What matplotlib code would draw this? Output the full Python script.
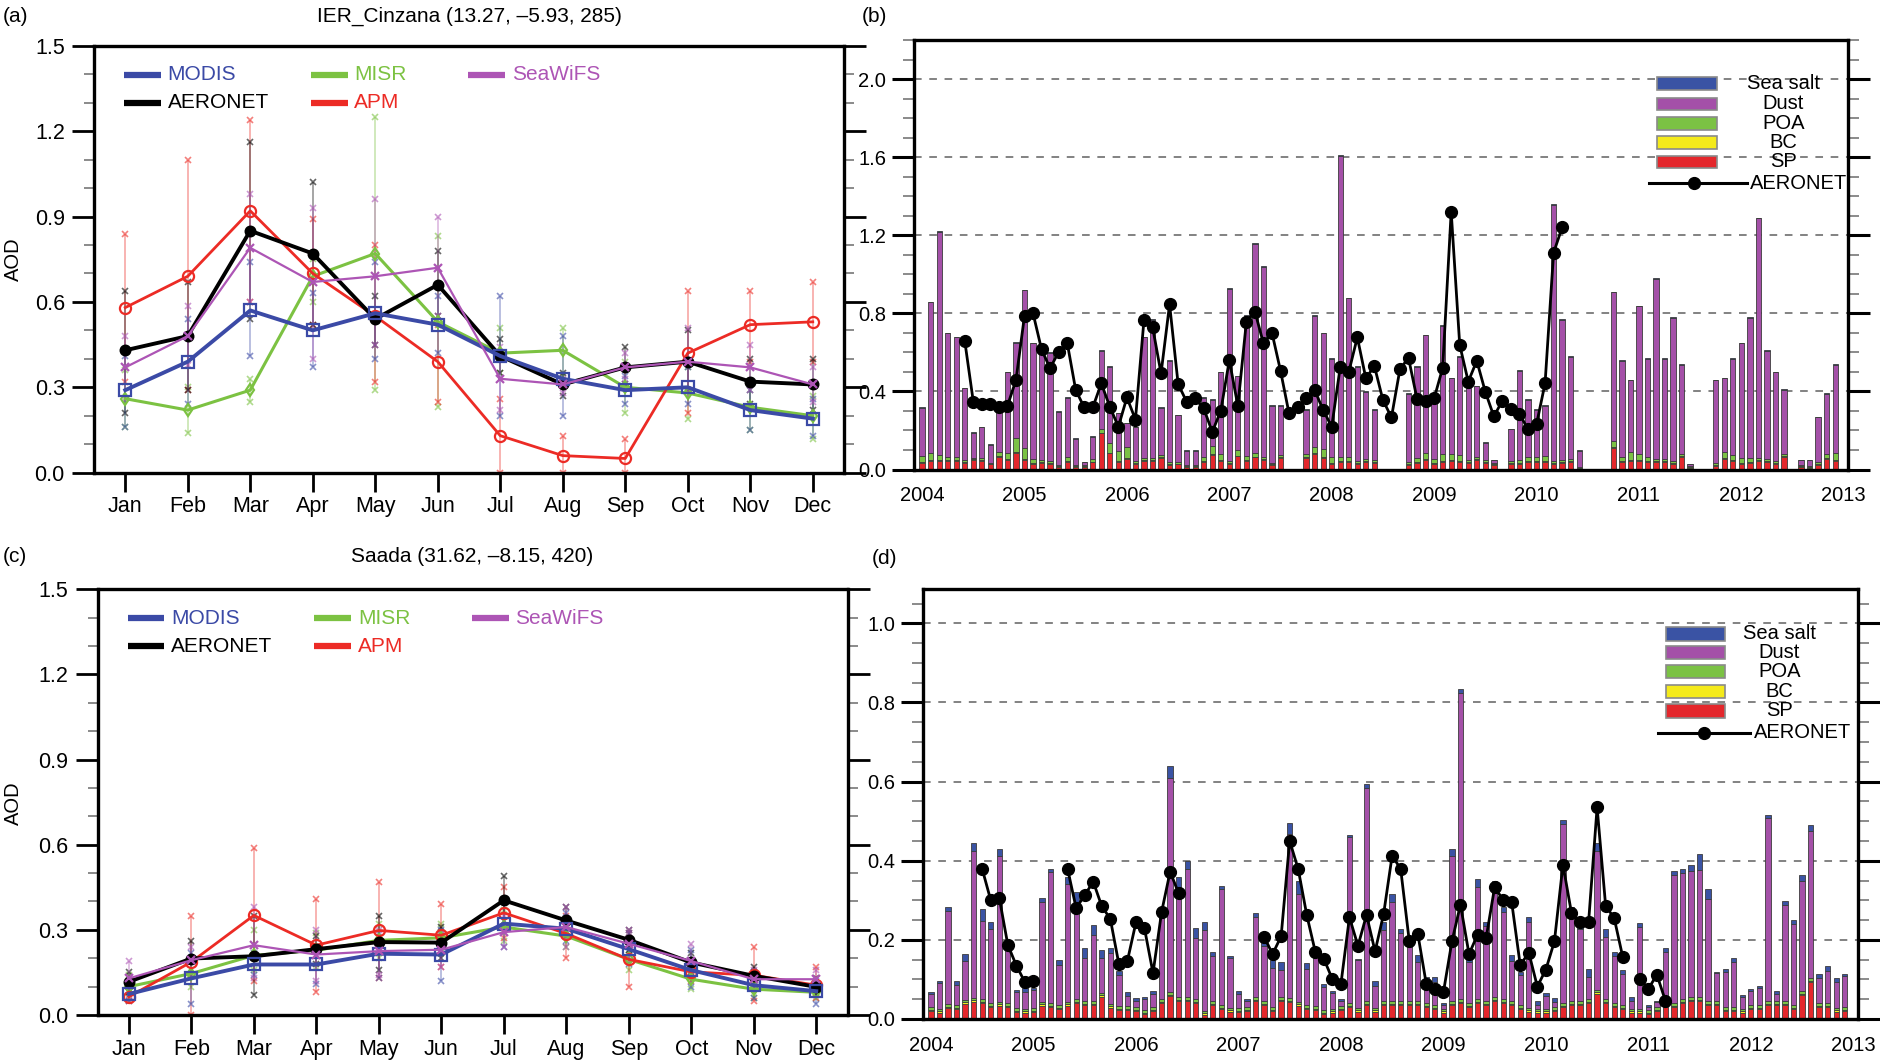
import numpy as np
import matplotlib
matplotlib.use('Agg')
import matplotlib.pyplot as plt
from matplotlib.patches import Rectangle
from matplotlib.lines import Line2D
from matplotlib.ticker import MultipleLocator, FormatStrFormatter

plt.rcParams['font.family'] = ['Liberation Sans', 'DejaVu Sans']
nan = np.nan

# ---------------- categories / labels ----------------
month_labels = ['Jan', 'Feb', 'Mar', 'Apr', 'May', 'Jun', 'Jul', 'Aug', 'Sep', 'Oct', 'Nov', 'Dec']
year_labels = ['2004', '2005', '2006', '2007', '2008', '2009', '2010', '2011', '2012', '2013']
series_names = ['MODIS', 'MISR', 'SeaWiFS', 'AERONET', 'APM']
component_names = ['Sea salt', 'Dust', 'POA', 'BC', 'SP']
title_a = 'IER_Cinzana (13.27, \u20135.93, 285)'
title_c = 'Saada (31.62, \u20138.15, 420)'

# ---------------- panel (a): IER_Cinzana monthly climatology ----------------
a_modis = [0.29, 0.39, 0.57, 0.50, 0.56, 0.52, 0.41, 0.33, 0.29, 0.30, 0.22, 0.19]
a_misr = [0.26, 0.22, 0.29, 0.69, 0.77, 0.53, 0.42, 0.43, 0.30, 0.28, 0.23, 0.20]
a_seawifs = [0.37, 0.48, 0.79, 0.67, 0.69, 0.72, 0.33, 0.31, 0.37, 0.39, 0.37, 0.31]
a_aeronet = [0.43, 0.48, 0.85, 0.77, 0.54, 0.66, 0.41, 0.31, 0.37, 0.39, 0.32, 0.31]
a_apm = [0.58, 0.69, 0.92, 0.70, 0.55, 0.39, 0.13, 0.06, 0.05, 0.42, 0.52, 0.53]

a_modis_lo = [0.16, 0.24, 0.41, 0.37, 0.40, 0.42, 0.20, 0.20, 0.24, 0.24, 0.15, 0.13]
a_modis_hi = [0.41, 0.54, 0.74, 0.63, 0.74, 0.62, 0.62, 0.48, 0.34, 0.37, 0.29, 0.26]
a_misr_lo = [0.16, 0.14, 0.25, 0.60, 0.29, 0.23, 0.35, 0.34, 0.21, 0.19, 0.15, 0.12]
a_misr_hi = [0.36, 0.30, 0.33, 0.75, 1.25, 0.83, 0.51, 0.51, 0.39, 0.37, 0.29, 0.27]
a_seawifs_lo = [0.26, 0.38, 0.60, 0.40, 0.45, 0.55, 0.22, 0.28, 0.33, 0.29, 0.29, 0.25]
a_seawifs_hi = [0.48, 0.585, 0.98, 0.93, 0.96, 0.90, 0.44, 0.33, 0.42, 0.51, 0.45, 0.37]
a_aeronet_lo = [0.21, 0.29, 0.54, 0.52, 0.45, 0.55, 0.35, 0.27, 0.31, 0.29, 0.24, 0.22]
a_aeronet_hi = [0.64, 0.67, 1.16, 1.02, 0.62, 0.78, 0.47, 0.35, 0.44, 0.50, 0.40, 0.40]
a_apm_lo = [0.32, 0.29, 0.60, 0.52, 0.32, 0.25, 0.0, 0.0, 0.0, 0.21, 0.39, 0.39]
a_apm_hi = [0.84, 1.10, 1.24, 0.89, 0.80, 0.52, 0.26, 0.13, 0.12, 0.64, 0.64, 0.67]

# ---------------- panel (c): Saada monthly climatology ----------------
c_modis = [0.074, 0.129, 0.178, 0.178, 0.216, 0.213, 0.322, 0.304, 0.232, 0.158, 0.105, 0.084]
c_misr = [0.100, 0.146, 0.210, 0.228, 0.263, 0.272, 0.310, 0.278, 0.196, 0.126, 0.091, 0.080]
c_seawifs = [0.129, 0.193, 0.246, 0.213, 0.225, 0.230, 0.292, 0.310, 0.251, 0.190, 0.126, 0.126]
c_aeronet = [0.117, 0.199, 0.207, 0.232, 0.257, 0.255, 0.404, 0.333, 0.265, 0.185, 0.138, 0.099]
c_apm = [0.064, 0.187, 0.351, 0.246, 0.298, 0.281, 0.360, 0.287, 0.196, 0.152, 0.140, 0.105]

c_modis_lo = [0.05, 0.04, 0.14, 0.11, 0.13, 0.12, 0.24, 0.26, 0.18, 0.10, 0.06, 0.04]
c_modis_hi = [0.10, 0.22, 0.22, 0.24, 0.29, 0.30, 0.40, 0.36, 0.29, 0.23, 0.15, 0.12]
c_misr_lo = [0.06, 0.10, 0.16, 0.17, 0.20, 0.22, 0.26, 0.24, 0.16, 0.09, 0.06, 0.06]
c_misr_hi = [0.14, 0.19, 0.30, 0.29, 0.32, 0.32, 0.37, 0.32, 0.23, 0.16, 0.12, 0.10]
c_seawifs_lo = [0.07, 0.14, 0.13, 0.12, 0.14, 0.17, 0.24, 0.24, 0.20, 0.14, 0.10, 0.09]
c_seawifs_hi = [0.19, 0.24, 0.38, 0.30, 0.30, 0.29, 0.35, 0.38, 0.30, 0.25, 0.16, 0.16]
c_aeronet_lo = [0.08, 0.14, 0.07, 0.18, 0.16, 0.20, 0.33, 0.28, 0.23, 0.15, 0.10, 0.07]
c_aeronet_hi = [0.15, 0.26, 0.35, 0.28, 0.35, 0.31, 0.49, 0.38, 0.30, 0.22, 0.17, 0.13]
c_apm_lo = [0.05, 0.00, 0.12, 0.08, 0.13, 0.17, 0.27, 0.20, 0.10, 0.12, 0.05, 0.06]
c_apm_hi = [0.08, 0.35, 0.59, 0.41, 0.47, 0.39, 0.45, 0.35, 0.29, 0.19, 0.24, 0.17]

# ---------------- panel (b): IER_Cinzana monthly time series 2004-2012 ----------------
b_sp = [
    0.035, 0.043, 0.043, 0.043, 0.043, 0.035, 0.050, 0.043, 0.026, 0.065, 0.048, 0.085,
    0.048, 0.030, 0.035, 0.030, 0.014, 0.040, 0.013, 0.013, 0.036, 0.185, 0.082, 0.040,
    0.056, 0.027, 0.043, 0.043, 0.060, 0.025, 0.026, 0.015, 0.015, 0.040, 0.075, 0.043,
    0.030, 0.067, 0.043, 0.062, 0.050, 0.025, 0.060, nan, nan, 0.060, 0.080, 0.060,
    0.030, 0.040, 0.040, 0.030, 0.040, 0.035, nan, nan, nan, 0.025, 0.035, 0.050,
    0.030, 0.040, 0.045, 0.040, 0.035, 0.050, 0.035, 0.025, nan, 0.030, 0.030, 0.040,
    0.040, 0.040, 0.030, 0.035, 0.040, 0.005, nan, nan, nan, 0.110, 0.040, 0.045,
    0.045, 0.040, 0.040, 0.040, 0.030, 0.065, 0.008, nan, nan, 0.020, 0.055, 0.045,
    0.030, 0.035, 0.045, 0.040, 0.030, 0.065, nan, 0.015, 0.010, 0.025, 0.055, 0.045]
b_bc = [
    0.004, 0.004, 0.004, 0.004, 0.004, 0.004, 0.004, 0.004, 0.004, 0.004, 0.004, 0.006,
    0.004, 0.004, 0.004, 0.004, 0.004, 0.004, 0.004, 0.004, 0.004, 0.004, 0.004, 0.004,
    0.004, 0.004, 0.004, 0.004, 0.004, 0.004, 0.004, 0.004, 0.004, 0.004, 0.004, 0.004,
    0.004, 0.004, 0.004, 0.004, 0.004, 0.004, 0.004, nan, nan, 0.004, 0.004, 0.004,
    0.004, 0.004, 0.004, 0.004, 0.004, 0.004, nan, nan, nan, 0.004, 0.004, 0.004,
    0.004, 0.004, 0.004, 0.004, 0.004, 0.004, 0.004, 0.004, nan, 0.004, 0.004, 0.004,
    0.004, 0.004, 0.004, 0.004, 0.004, 0.004, nan, nan, nan, 0.004, 0.004, 0.004,
    0.004, 0.004, 0.004, 0.004, 0.004, 0.004, 0.004, nan, nan, 0.004, 0.004, 0.004,
    0.004, 0.004, 0.004, 0.004, 0.004, 0.004, nan, 0.004, 0.004, 0.004, 0.004, 0.004]
b_poa = [
    0.030, 0.040, 0.025, 0.015, 0.015, 0.008, 0.006, 0.012, 0.005, 0.020, 0.030, 0.070,
    0.060, 0.020, 0.008, 0.008, 0.005, 0.020, 0.004, 0.004, 0.012, 0.020, 0.050, 0.050,
    0.055, 0.010, 0.012, 0.010, 0.012, 0.010, 0.010, 0.005, 0.005, 0.020, 0.040, 0.030,
    0.012, 0.030, 0.020, 0.020, 0.010, 0.005, 0.012, nan, nan, 0.015, 0.030, 0.040,
    0.030, 0.020, 0.020, 0.012, 0.010, 0.010, nan, nan, nan, 0.008, 0.020, 0.030,
    0.020, 0.035, 0.030, 0.030, 0.010, 0.010, 0.010, 0.004, nan, 0.008, 0.015, 0.020,
    0.020, 0.025, 0.012, 0.010, 0.008, 0.004, nan, nan, nan, 0.030, 0.020, 0.040,
    0.030, 0.020, 0.012, 0.010, 0.010, 0.012, 0.004, nan, nan, 0.008, 0.030, 0.025,
    0.025, 0.020, 0.010, 0.008, 0.010, 0.010, nan, 0.005, 0.005, 0.008, 0.020, 0.035]
b_dust = [
    0.248, 0.770, 1.145, 0.635, 0.615, 0.370, 0.127, 0.158, 0.092, 0.208, 0.415, 0.488,
    0.805, 0.593, 0.560, 0.555, 0.274, 0.303, 0.136, 0.016, 0.115, 0.398, 0.391, 0.193,
    0.122, 0.176, 0.618, 0.710, 0.241, 0.518, 0.237, 0.073, 0.073, 0.303, 0.238, 0.420,
    0.881, 0.376, 0.720, 1.071, 0.973, 0.293, 0.251, nan, nan, 0.228, 0.673, 0.593,
    0.503, 1.543, 0.813, 0.481, 0.343, 0.258, nan, nan, nan, 0.350, 0.468, 0.603,
    0.293, 0.658, 0.388, 0.503, 0.368, 0.363, 0.088, 0.014, nan, 0.165, 0.458, 0.293,
    0.243, 0.258, 1.311, 0.718, 0.525, 0.084, nan, nan, nan, 0.763, 0.493, 0.368,
    0.758, 0.503, 0.921, 0.513, 0.733, 0.456, 0.011, nan, nan, 0.425, 0.378, 0.493,
    0.588, 0.718, 1.228, 0.555, 0.453, 0.328, nan, 0.023, 0.028, 0.230, 0.308, 0.453]
b_ss = [
    0.003, 0.003, 0.003, 0.003, 0.003, 0.003, 0.003, 0.003, 0.003, 0.003, 0.003, 0.003,
    0.003, 0.003, 0.003, 0.003, 0.003, 0.003, 0.003, 0.003, 0.003, 0.003, 0.003, 0.003,
    0.003, 0.003, 0.003, 0.003, 0.003, 0.003, 0.003, 0.003, 0.003, 0.003, 0.003, 0.003,
    0.003, 0.003, 0.003, 0.003, 0.003, 0.003, 0.003, nan, nan, 0.003, 0.003, 0.003,
    0.003, 0.003, 0.003, 0.003, 0.003, 0.003, nan, nan, nan, 0.003, 0.003, 0.003,
    0.003, 0.003, 0.003, 0.003, 0.003, 0.003, 0.003, 0.003, nan, 0.003, 0.003, 0.003,
    0.003, 0.003, 0.003, 0.003, 0.003, 0.003, nan, nan, nan, 0.003, 0.003, 0.003,
    0.003, 0.003, 0.003, 0.003, 0.003, 0.003, 0.003, nan, nan, 0.003, 0.003, 0.003,
    0.003, 0.003, 0.003, 0.003, 0.003, 0.003, nan, 0.003, 0.003, 0.003, 0.003, 0.003]
b_aeronet = [
    nan, nan, nan, nan, nan, 0.658, 0.347, 0.338, 0.333, 0.318, 0.326, 0.458,
    0.788, 0.800, 0.615, 0.518, 0.603, 0.650, 0.407, 0.318, 0.318, 0.441, 0.321, 0.219,
    0.369, 0.256, 0.766, 0.732, 0.492, 0.846, 0.438, 0.347, 0.364, 0.313, 0.193, 0.300,
    0.560, 0.326, 0.757, 0.809, 0.646, 0.700, 0.506, 0.287, 0.318, 0.368, 0.407, 0.304,
    0.219, 0.526, 0.500, 0.677, 0.467, 0.530, 0.356, 0.267, 0.515, 0.571, 0.361, 0.349,
    0.364, 0.520, 1.320, 0.638, 0.450, 0.557, 0.398, 0.272, 0.352, 0.309, 0.284, 0.207,
    0.232, 0.441, 1.110, 1.240, nan, nan, nan, nan, nan, nan, nan, nan,
    nan, nan, nan, nan, nan, nan, nan, nan, nan, nan, nan, nan,
    nan, nan, nan, nan, nan, nan, nan, nan, nan, nan, nan, nan]

# ---------------- panel (d): Saada monthly time series 2004-2012 ----------------
d_sp = [
    0.020, 0.015, 0.027, 0.025, 0.038, 0.044, 0.040, 0.030, 0.034, 0.030, 0.017, 0.015,
    0.017, 0.034, 0.030, 0.025, 0.034, 0.040, 0.035, 0.035, 0.056, 0.028, 0.022, 0.022,
    0.020, 0.012, 0.020, 0.040, 0.057, 0.045, 0.045, 0.040, 0.010, 0.035, 0.025, 0.018,
    0.017, 0.020, 0.045, 0.035, 0.020, 0.045, 0.042, 0.033, 0.025, 0.022, 0.012, 0.015,
    0.022, 0.030, 0.018, 0.035, 0.018, 0.035, 0.035, 0.035, 0.035, 0.035, 0.030, 0.025,
    0.015, 0.035, 0.040, 0.030, 0.040, 0.035, 0.045, 0.040, 0.035, 0.025, 0.018, 0.015,
    0.015, 0.020, 0.030, 0.035, 0.035, 0.040, 0.063, 0.040, 0.030, 0.025, 0.015, 0.015,
    0.012, 0.020, 0.030, 0.030, 0.040, 0.045, 0.045, 0.035, 0.035, 0.020, 0.020, 0.015,
    0.025, 0.025, 0.035, 0.035, 0.035, 0.025, 0.060, 0.093, 0.030, 0.030, 0.018, 0.020]
d_bc = [
    0.004, 0.004, 0.004, 0.004, 0.004, 0.004, 0.004, 0.004, 0.004, 0.004, 0.004, 0.004,
    0.004, 0.004, 0.004, 0.004, 0.004, 0.004, 0.004, 0.004, 0.004, 0.004, 0.004, 0.004,
    0.004, 0.004, 0.004, 0.004, 0.004, 0.004, 0.004, 0.004, 0.004, 0.004, 0.004, 0.004,
    0.004, 0.004, 0.004, 0.004, 0.004, 0.004, 0.004, 0.004, 0.004, 0.004, 0.004, 0.004,
    0.004, 0.004, 0.004, 0.004, 0.004, 0.004, 0.004, 0.004, 0.004, 0.004, 0.004, 0.004,
    0.004, 0.004, 0.004, 0.004, 0.004, 0.004, 0.004, 0.004, 0.004, 0.004, 0.004, 0.004,
    0.004, 0.004, 0.004, 0.004, 0.004, 0.004, 0.004, 0.004, 0.004, 0.004, 0.004, 0.004,
    0.004, 0.004, 0.004, 0.004, 0.004, 0.004, 0.004, 0.004, 0.004, 0.004, 0.004, 0.004,
    0.004, 0.004, 0.004, 0.004, 0.004, 0.004, 0.004, 0.004, 0.004, 0.004, 0.004, 0.004]
d_poa = [
    0.006, 0.006, 0.006, 0.006, 0.006, 0.006, 0.006, 0.006, 0.006, 0.006, 0.006, 0.006,
    0.006, 0.006, 0.006, 0.006, 0.006, 0.006, 0.006, 0.006, 0.006, 0.006, 0.006, 0.006,
    0.006, 0.006, 0.006, 0.006, 0.006, 0.006, 0.006, 0.006, 0.006, 0.006, 0.006, 0.006,
    0.006, 0.006, 0.006, 0.006, 0.006, 0.006, 0.006, 0.006, 0.006, 0.006, 0.006, 0.006,
    0.006, 0.006, 0.006, 0.006, 0.006, 0.006, 0.006, 0.006, 0.006, 0.006, 0.006, 0.006,
    0.006, 0.006, 0.006, 0.006, 0.006, 0.006, 0.006, 0.006, 0.006, 0.006, 0.006, 0.006,
    0.006, 0.006, 0.006, 0.006, 0.006, 0.006, 0.006, 0.006, 0.006, 0.006, 0.006, 0.006,
    0.006, 0.006, 0.006, 0.006, 0.006, 0.006, 0.006, 0.006, 0.006, 0.006, 0.006, 0.006,
    0.006, 0.006, 0.006, 0.006, 0.006, 0.006, 0.006, 0.006, 0.006, 0.006, 0.006, 0.006]
d_dust = [
    0.032, 0.066, 0.235, 0.052, 0.099, 0.371, 0.198, 0.188, 0.369, 0.135, 0.041, 0.043,
    0.046, 0.252, 0.331, 0.102, 0.296, 0.240, 0.110, 0.167, 0.089, 0.130, 0.080, 0.027,
    0.016, 0.029, 0.032, 0.205, 0.543, 0.275, 0.325, 0.155, 0.206, 0.115, 0.294, 0.127,
    0.037, 0.015, 0.203, 0.140, 0.099, 0.070, 0.415, 0.273, 0.091, 0.136, 0.058, 0.040,
    0.013, 0.421, 0.120, 0.538, 0.055, 0.181, 0.250, 0.172, 0.137, 0.098, 0.045, 0.058,
    0.011, 0.367, 0.774, 0.104, 0.284, 0.189, 0.275, 0.220, 0.102, 0.075, 0.217, 0.011,
    0.032, 0.013, 0.452, 0.222, 0.183, 0.056, 0.352, 0.157, 0.118, 0.079, 0.020, 0.208,
    0.009, 0.012, 0.130, 0.325, 0.319, 0.320, 0.322, 0.259, 0.070, 0.090, 0.115, 0.031,
    0.036, 0.044, 0.462, 0.017, 0.244, 0.204, 0.279, 0.372, 0.064, 0.081, 0.065, 0.078]
d_ss = [
    0.005, 0.004, 0.012, 0.008, 0.017, 0.021, 0.030, 0.018, 0.017, 0.015, 0.006, 0.010,
    0.005, 0.010, 0.008, 0.012, 0.020, 0.030, 0.025, 0.025, 0.020, 0.012, 0.010, 0.008,
    0.006, 0.005, 0.008, 0.015, 0.030, 0.030, 0.020, 0.025, 0.020, 0.010, 0.008, 0.005,
    0.006, 0.005, 0.010, 0.015, 0.020, 0.018, 0.028, 0.032, 0.015, 0.012, 0.008, 0.005,
    0.005, 0.005, 0.004, 0.012, 0.012, 0.020, 0.022, 0.010, 0.018, 0.020, 0.020, 0.012,
    0.004, 0.018, 0.010, 0.008, 0.020, 0.010, 0.020, 0.012, 0.015, 0.008, 0.012, 0.010,
    0.008, 0.010, 0.012, 0.015, 0.020, 0.020, 0.020, 0.020, 0.012, 0.010, 0.010, 0.010,
    0.004, 0.004, 0.010, 0.010, 0.010, 0.015, 0.040, 0.024, 0.005, 0.006, 0.008, 0.005,
    0.005, 0.005, 0.008, 0.008, 0.008, 0.012, 0.015, 0.015, 0.010, 0.012, 0.010, 0.006]
d_aeronet = [
    nan, nan, nan, nan, nan, nan, 0.379, 0.300, 0.306, 0.187, 0.135, 0.093,
    0.097, nan, nan, nan, 0.379, 0.280, 0.313, 0.347, 0.285, 0.253, 0.139, 0.147,
    0.244, 0.229, 0.116, 0.270, 0.372, 0.318, nan, nan, nan, nan, nan, nan,
    nan, nan, nan, 0.208, 0.164, 0.209, 0.450, 0.379, 0.263, 0.170, 0.152, 0.101,
    0.088, 0.257, 0.185, 0.263, 0.171, 0.265, 0.413, 0.379, 0.198, 0.216, 0.088, 0.076,
    0.067, 0.196, 0.289, 0.164, 0.213, 0.204, 0.333, 0.301, 0.295, 0.136, 0.168, 0.082,
    0.125, 0.196, 0.390, 0.268, 0.244, 0.244, 0.535, 0.286, 0.255, 0.157, nan, 0.101,
    0.076, 0.112, 0.046, nan, nan, nan, nan, nan, nan, nan, nan, nan,
    nan, nan, nan, nan, nan, nan, nan, nan, nan, nan, nan, nan]

# ---------------- styles ----------------
COL = {'MODIS': '#3b4aa6', 'MISR': '#7cc242', 'SeaWiFS': '#ad55b5',
       'AERONET': '#000000', 'APM': '#ec2b25'}
COMP_COL = {'Sea salt': '#3a53a4', 'Dust': '#a450a8', 'POA': '#7bc244',
            'BC': '#f4ea1b', 'SP': '#e4272c'}
STY = {  # marker, facecolor, linewidth, markersize
    'MODIS': ('s', 'none', 2.8, 8),
    'MISR': ('d', 'none', 2.2, 6),
    'SeaWiFS': ('x', None, 1.6, 6),
    'AERONET': ('o', '#000000', 2.8, 7),
    'APM': ('o', 'none', 2.0, 8),
}
DRAW_ORDER = ['MISR', 'APM', 'AERONET', 'MODIS', 'SeaWiFS']

W, H = 1880.0, 1060.0
fig = plt.figure(figsize=(W / 100, H / 100), dpi=100)


def box(l, t, r, b):
    return [l / W, 1 - b / H, (r - l) / W, (b - t) / H]


ax_a = fig.add_axes(box(94, 45.7, 844, 472.7))
ax_b = fig.add_axes(box(914, 40, 1848, 469.5))
ax_c = fig.add_axes(box(97.6, 589.3, 847.5, 1015))
ax_d = fig.add_axes(box(922.7, 589.3, 1858, 1019))


def style_spines(ax, lw=2.4):
    for s in ax.spines.values():
        s.set_linewidth(lw)


def monthly_panel(ax, data):
    x = np.arange(1, len(month_labels) + 1)
    for name in DRAW_ORDER:
        vals, lo, hi = data[name]
        col = COL[name]
        ax.vlines(x, lo, hi, color=col, lw=1.1, alpha=0.45, zorder=2)
        ax.plot(x, lo, ls='none', marker='x', ms=5, mew=1.2, color=col, alpha=0.6, zorder=2)
        ax.plot(x, hi, ls='none', marker='x', ms=5, mew=1.2, color=col, alpha=0.6, zorder=2)
        mk, mfc, lw, ms = STY[name]
        kw = dict(color=col, lw=lw, marker=mk, ms=ms, mec=col, mew=1.6, zorder=3)
        if mfc is not None:
            kw['mfc'] = mfc
        ax.plot(x, vals, **kw)
    ax.set_xlim(0.5, 12.5)
    ax.set_ylim(0, 1.5)
    ax.set_xticks(x)
    ax.set_xticklabels(month_labels)
    ax.yaxis.set_major_locator(MultipleLocator(0.3))
    ax.yaxis.set_minor_locator(MultipleLocator(0.1))
    ax.yaxis.set_major_formatter(FormatStrFormatter('%.1f'))
    ax.tick_params(axis='x', which='major', direction='out', length=14, width=2,
                   labelsize=15.5, pad=3, top=False)
    ax.tick_params(axis='y', which='major', direction='out', length=16, width=2,
                   labelsize=15.5, pad=5, right=True, labelright=False)
    ax.tick_params(axis='y', which='minor', direction='out', length=7, width=1.2,
                   color='#777777', right=True)
    style_spines(ax)
    # legend: two rows, three columns
    cols = [0.040, 0.289, 0.499]
    rows = [0.932, 0.866]
    layout = [('MODIS', 0, 0), ('MISR', 1, 0), ('SeaWiFS', 2, 0),
              ('AERONET', 0, 1), ('APM', 1, 1)]
    for name, ci, ri in layout:
        x0, y0 = cols[ci], rows[ri]
        ax.add_line(Line2D([x0, x0 + 0.049], [y0, y0], transform=ax.transAxes,
                           color=COL[name], lw=4.5, solid_capstyle='butt', zorder=5))
        ax.text(x0 + 0.058, y0, name, transform=ax.transAxes, color=COL[name],
                fontsize=15, ha='left', va='center', zorder=5)


monthly_panel(ax_a, {
    'MODIS': (a_modis, a_modis_lo, a_modis_hi),
    'MISR': (a_misr, a_misr_lo, a_misr_hi),
    'SeaWiFS': (a_seawifs, a_seawifs_lo, a_seawifs_hi),
    'AERONET': (a_aeronet, a_aeronet_lo, a_aeronet_hi),
    'APM': (a_apm, a_apm_lo, a_apm_hi),
})
monthly_panel(ax_c, {
    'MODIS': (c_modis, c_modis_lo, c_modis_hi),
    'MISR': (c_misr, c_misr_lo, c_misr_hi),
    'SeaWiFS': (c_seawifs, c_seawifs_lo, c_seawifs_hi),
    'AERONET': (c_aeronet, c_aeronet_lo, c_aeronet_hi),
    'APM': (c_apm, c_apm_lo, c_apm_hi),
})


def bar_panel(ax, sp, bc, poa, dust, ss, aero, ymax, major, minor, xlim, leg):
    comps = [('SP', np.array(sp, float)), ('BC', np.array(bc, float)),
             ('POA', np.array(poa, float)), ('Dust', np.array(dust, float)),
             ('Sea salt', np.array(ss, float))]
    n = len(comps[0][1])
    x = np.arange(n)
    valid = ~np.isnan(comps[0][1])
    bottom = np.zeros(n)
    for name, vals in comps:
        ax.bar(x[valid], vals[valid], bottom=bottom[valid], width=0.62,
               color=COMP_COL[name], edgecolor='#3c3c3c', linewidth=0.6, zorder=2)
        bottom = bottom + np.nan_to_num(vals)
    ax.plot(x, np.array(aero, float), color='k', lw=2.0, marker='o', ms=8.5, zorder=4)

    ax.set_xlim(*xlim)
    ax.set_ylim(0, ymax)
    ax.set_xticks(np.arange(0, n + 1, 12))
    ax.set_xticklabels(year_labels)
    ax.yaxis.set_major_locator(MultipleLocator(major))
    ax.yaxis.set_minor_locator(MultipleLocator(minor))
    ax.yaxis.set_major_formatter(FormatStrFormatter('%.1f'))
    ax.yaxis.grid(True, which='major', linestyle=(0, (5, 5)), color='#606060', lw=1.1)
    ax.set_axisbelow(True)
    ax.tick_params(axis='x', which='major', length=0, labelsize=14.5, pad=12, top=False)
    ax.tick_params(axis='y', which='major', direction='out', length=16, width=2.2,
                   labelsize=14.5, pad=4, right=True, labelright=False)
    ax.tick_params(axis='y', which='minor', direction='out', length=8, width=1.2,
                   color='#777777', right=True)
    style_spines(ax)

    bx0, bx1, xtext, ys, h, lx0, lx1, mx, tx, ya = leg
    for name, y in zip(component_names, ys):
        ax.add_patch(Rectangle((bx0, y - h / 2), bx1 - bx0, h, transform=ax.transAxes,
                               facecolor=COMP_COL[name], edgecolor='#8a8a8a', lw=1.2,
                               zorder=6, clip_on=False))
        ax.text(xtext, y, name, transform=ax.transAxes, ha='center', va='center',
                fontsize=14.5, zorder=6)
    ax.add_line(Line2D([lx0, lx1], [ya, ya], transform=ax.transAxes, color='k',
                       lw=2.2, zorder=6))
    ax.add_line(Line2D([mx], [ya], transform=ax.transAxes, color='k', marker='o',
                       ms=8.5, zorder=6))
    ax.text(tx, ya, 'AERONET', transform=ax.transAxes, ha='left', va='center',
            fontsize=14.5, zorder=6)


bar_panel(ax_b, b_sp, b_bc, b_poa, b_dust, b_ss, b_aeronet, 2.2, 0.4, 0.1,
          (-0.95, 108.5),
          (0.7955, 0.860, 0.931, [0.898, 0.851, 0.806, 0.761, 0.716], 0.030,
           0.787, 0.892, 0.835, 0.895, 0.666))
bar_panel(ax_d, d_sp, d_bc, d_poa, d_dust, d_ss, d_aeronet, 1.086, 0.2, 0.05,
          (-0.97, 108.55),
          (0.795, 0.858, 0.916, [0.896, 0.853, 0.808, 0.762, 0.717], 0.031,
           0.786, 0.884, 0.835, 0.889, 0.666))

# titles / panel labels / axis labels
fig.text(3 / W, 1 - 16 / H, '(a)', fontsize=15, ha='left', va='center')
fig.text(469 / W, 1 - 16 / H, title_a, fontsize=15, ha='center', va='center')
fig.text(862 / W, 1 - 16 / H, '(b)', fontsize=15, ha='left', va='center')
fig.text(3 / W, 1 - 557 / H, '(c)', fontsize=15, ha='left', va='center')
fig.text(472 / W, 1 - 557 / H, title_c, fontsize=15, ha='center', va='center')
fig.text(872 / W, 1 - 558 / H, '(d)', fontsize=15, ha='left', va='center')
fig.text(13 / W, 1 - 259 / H, 'AOD', fontsize=14.5, rotation=90, ha='center', va='center')
fig.text(13 / W, 1 - 803 / H, 'AOD', fontsize=14.5, rotation=90, ha='center', va='center')

fig.savefig('out.png', dpi=100)
